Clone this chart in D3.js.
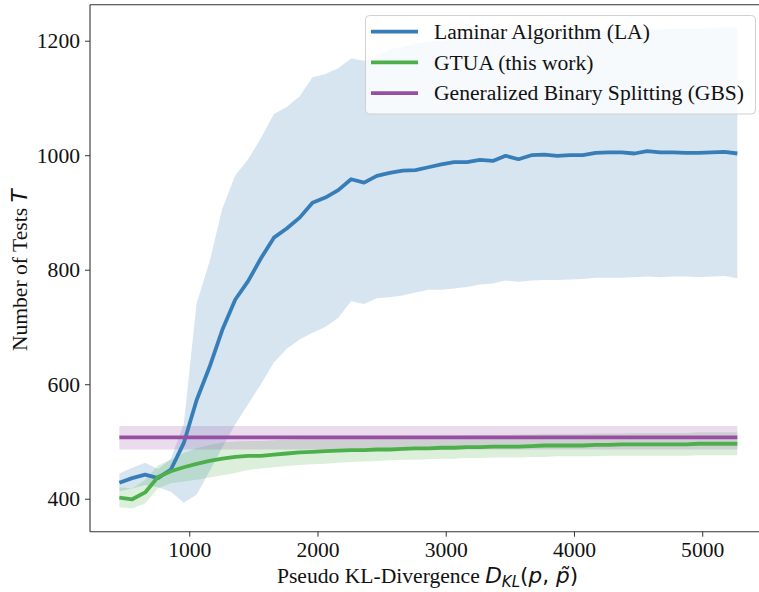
<!DOCTYPE html>
<html>
<head>
<meta charset="utf-8">
<script src="https://cdn.jsdelivr.net/npm/d3@7"></script>
<style>
  html, body { margin: 0; padding: 0; background: #fff; }
  svg { display: block; }
  text { font-family: "Liberation Serif", "Times New Roman", serif; }
</style>
</head>
<body>
<svg id="chart" width="759" height="592"></svg>
<script>
// ---- data ----
const xValues = [455, 555, 656, 756, 857, 957, 1057, 1158, 1258, 1359,
  1459, 1559, 1660, 1760, 1861, 1961, 2061, 2162, 2262, 2363,
  2463, 2563, 2664, 2764, 2865, 2965, 3065, 3166, 3266, 3367,
  3467, 3567, 3668, 3768, 3869, 3969, 4069, 4170, 4270, 4371,
  4471, 4571, 4672, 4772, 4873, 4973, 5073, 5174, 5274];

const laMean = [428, 436, 442, 436, 451, 497, 572, 630, 695, 748,
  780, 820, 856, 872, 891, 917, 926, 939, 958, 952,
  964, 969, 973, 974, 979, 984, 988, 988, 992, 990,
  999, 993, 1000, 1001, 999, 1000, 1000, 1004, 1005, 1005,
  1003, 1007, 1005, 1005, 1004, 1004, 1005, 1006, 1003];
const laLow = [413, 418, 424, 420, 412, 393, 407, 448, 490, 530,
  565, 600, 638, 662, 678, 690, 700, 716, 745, 740,
  750, 752, 755, 760, 765, 765, 767, 770, 774, 776,
  781, 779, 781, 782, 782, 783, 784, 786, 786, 786,
  787, 788, 787, 788, 788, 787, 788, 789, 785];
const laHigh = [444, 454, 463, 452, 470, 530, 741, 814, 907, 965,
  993, 1030, 1072, 1084, 1103, 1136, 1142, 1152, 1169, 1165,
  1172, 1185, 1190, 1195, 1198, 1200, 1203, 1205, 1207, 1210,
  1210, 1212, 1214, 1214, 1215, 1216, 1217, 1218, 1218, 1219,
  1219, 1220, 1220, 1221, 1221, 1221, 1222, 1223, 1223];

const gtuaMean = [402, 399, 411, 438, 448, 455, 461, 466, 470, 473,
  475, 475, 477, 479, 481, 482, 483, 484, 485, 485,
  486, 486, 487, 488, 488, 489, 489, 490, 490, 491,
  491, 491, 492, 493, 493, 493, 493, 494, 494, 495,
  495, 495, 495, 495, 495, 496, 496, 496, 496];
const gtuaLow = [385, 383, 392, 418, 427, 430, 433, 437, 441, 445,
  450, 453, 455, 457, 459, 460, 461, 463, 464, 465,
  466, 467, 468, 468, 469, 470, 470, 471, 471, 472,
  472, 472, 473, 473, 474, 474, 474, 474, 475, 475,
  475, 475, 475, 475, 475, 476, 476, 476, 476];
const gtuaHigh = [420, 418, 433, 458, 468, 480, 488, 494, 498, 500,
  501, 501, 502, 503, 504, 505, 505, 506, 507, 507,
  508, 508, 509, 509, 509, 510, 510, 511, 511, 511,
  511, 512, 512, 513, 513, 513, 513, 514, 514, 514,
  515, 515, 515, 515, 515, 516, 516, 516, 516];

const gbsMean = 507;
const gbsLow = 486;
const gbsHigh = 527;

const xTicks = [1000, 2000, 3000, 4000, 5000];
const yTicks = [400, 600, 800, 1000, 1200];

const seriesNames = ["Laminar Algorithm (LA)", "GTUA (this work)", "Generalized Binary Splitting (GBS)"];
const seriesColors = ["#377eb8", "#4daf4a", "#984ea3"];

// ---- layout ----
const FS = 21.6;
const svg = d3.select("#chart");
const mLeft = 90, mRight = 768, mTop = 4.7, mBottom = 531.7;

const x = d3.scaleLinear().domain([226, 5513]).range([mLeft, mRight]);
const y = d3.scaleLinear().domain([342.4, 1262.9]).range([mBottom, mTop]);

const idx = d3.range(xValues.length);

function band(low, high, color) {
  const area = d3.area()
    .x(i => x(xValues[i]))
    .y0(i => y(low[i]))
    .y1(i => y(high[i]));
  svg.append("path").datum(idx)
    .attr("d", area)
    .attr("fill", color)
    .attr("fill-opacity", 0.2)
    .attr("stroke", "none");
}
function line(vals, color) {
  const ln = d3.line().x(i => x(xValues[i])).y(i => y(vals[i]));
  svg.append("path").datum(idx)
    .attr("d", ln)
    .attr("fill", "none")
    .attr("stroke", color)
    .attr("stroke-width", 3.8)
    .attr("stroke-linejoin", "round")
    .attr("stroke-linecap", "butt");
}

const gbsLowArr = idx.map(() => gbsLow);
const gbsHighArr = idx.map(() => gbsHigh);
const gbsMeanArr = idx.map(() => gbsMean);

// fills first
band(laLow, laHigh, seriesColors[0]);
band(gtuaLow, gtuaHigh, seriesColors[1]);
band(gbsLowArr, gbsHighArr, seriesColors[2]);
// lines
line(laMean, seriesColors[0]);
line(gtuaMean, seriesColors[1]);
line(gbsMeanArr, seriesColors[2]);

// ---- axes ----
const xAxis = svg.append("g")
  .attr("transform", `translate(0,${mBottom})`)
  .call(d3.axisBottom(x).tickValues(xTicks).tickSize(5).tickPadding(5).tickFormat(d3.format("d")));
const yAxis = svg.append("g")
  .attr("transform", `translate(${mLeft},0)`)
  .call(d3.axisLeft(y).tickValues(yTicks).tickSize(5).tickPadding(5).tickFormat(d3.format("d")));

[xAxis, yAxis].forEach(g => {
  g.select(".domain").remove();
  g.selectAll(".tick line").attr("stroke", "#333").attr("stroke-width", 1);
  g.selectAll(".tick text")
    .attr("fill", "#111")
    .style("font-family", "'Liberation Serif', serif")
    .style("font-size", FS + "px");
});

// spines
svg.append("line").attr("x1", mLeft).attr("x2", mLeft).attr("y1", mTop).attr("y2", mBottom)
  .attr("stroke", "#333").attr("stroke-width", 1.1);
svg.append("line").attr("x1", mLeft).attr("x2", mRight).attr("y1", mBottom).attr("y2", mBottom)
  .attr("stroke", "#333").attr("stroke-width", 1.1);
svg.append("line").attr("x1", mLeft).attr("x2", mRight).attr("y1", mTop).attr("y2", mTop)
  .attr("stroke", "#333").attr("stroke-width", 1.1);
svg.append("line").attr("x1", mRight).attr("x2", mRight).attr("y1", mTop).attr("y2", mBottom)
  .attr("stroke", "#333").attr("stroke-width", 1.1);

// axis labels
const xl = svg.append("text")
  .attr("x", (mLeft + mRight) / 2 - 1.5)
  .attr("y", 583)
  .attr("text-anchor", "middle")
  .style("font-size", FS + "px")
  .attr("fill", "#111");
xl.append("tspan").text("Pseudo KL-Divergence ");
xl.append("tspan").style("font-family", "'DejaVu Sans', sans-serif").style("font-style", "italic").text("D");
xl.append("tspan").style("font-family", "'DejaVu Sans', sans-serif").style("font-style", "italic")
  .style("font-size", "15px").attr("dy", 4).text("KL");
xl.append("tspan").style("font-family", "'DejaVu Sans', sans-serif").attr("dy", -4).text("(");
xl.append("tspan").style("font-family", "'DejaVu Sans', sans-serif").style("font-style", "italic").text("p");
xl.append("tspan").style("font-family", "'DejaVu Sans', sans-serif").text(", ");
xl.append("tspan").style("font-family", "'DejaVu Sans', sans-serif").style("font-style", "italic").text("p\u0303");
xl.append("tspan").style("font-family", "'DejaVu Sans', sans-serif").text(")");

const yl = svg.append("text")
  .attr("transform", `translate(27,${(mTop + mBottom) / 2 + 2}) rotate(-90)`)
  .attr("text-anchor", "middle")
  .style("font-size", FS + "px")
  .attr("fill", "#111");
yl.append("tspan").text("Number of Tests ");
yl.append("tspan").style("font-family", "'DejaVu Sans', sans-serif").style("font-style", "italic").text("T");

// ---- legend ----
const lg = svg.append("g");
lg.append("rect")
  .attr("x", 365.5).attr("y", 15.5).attr("width", 390).attr("height", 98.5)
  .attr("rx", 4).attr("ry", 4)
  .attr("fill", "#fff").attr("fill-opacity", 0.8)
  .attr("stroke", "#d0d0d0").attr("stroke-width", 1);
seriesNames.forEach((name, i) => {
  const cy = 31.6 + i * 30.8;
  lg.append("line")
    .attr("x1", 371).attr("x2", 418).attr("y1", cy).attr("y2", cy)
    .attr("stroke", seriesColors[i]).attr("stroke-width", 3.8);
  lg.append("text")
    .attr("x", 434).attr("y", cy + 7.2)
    .style("font-size", FS + "px")
    .attr("fill", "#111")
    .text(name);
});
</script>
</body>
</html>
